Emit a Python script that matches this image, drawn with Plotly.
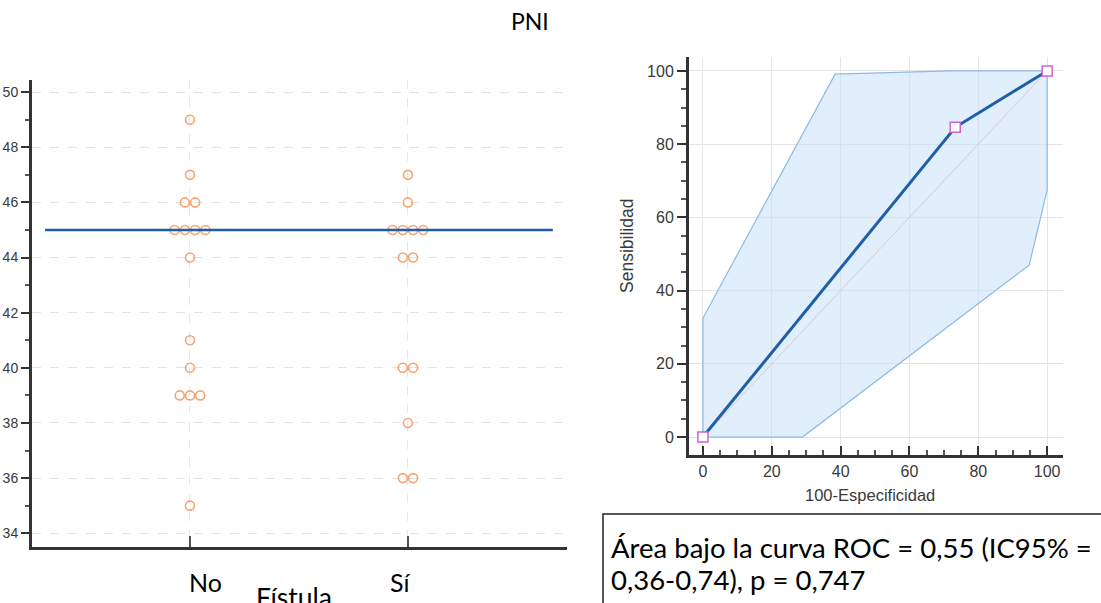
import plotly.graph_objects as go

# ---------------- data ----------------
categories = ["No", "Sí"]
pni_no = [49, 47, 46, 46, 45, 45, 45, 45, 44, 41, 40, 39, 39, 39, 35]
pni_si = [47, 46, 45, 45, 45, 45, 44, 44, 40, 40, 38, 36, 36]
mean_line_value = 45

roc_x = [0, 73.3, 100]
roc_y = [0, 84.6, 100]
band_x = [0, 0, 38.4, 72, 100, 100, 94.8, 28.9, 0]
band_y = [0, 32.5, 99.1, 100, 100, 67.5, 47, 0, 0]

left_yticks = [34, 36, 38, 40, 42, 44, 46, 48, 50]
right_ticks = [0, 20, 40, 60, 80, 100]

W, H = 1101, 603

fig = go.Figure()

# ---------- left dot plot ----------
step = 0.047  # horizontal spread for tied values (data units)


def spread(values, center):
    xs, ys = [], []
    counts = {}
    for v in values:
        counts[v] = counts.get(v, 0) + 1
    for v, n in counts.items():
        for i in range(n):
            xs.append(center + (i - (n - 1) / 2) * step)
            ys.append(v)
    return xs, ys


for ci, vals in enumerate([pni_no, pni_si]):
    xs, ys = spread(vals, ci)
    fig.add_trace(go.Scatter(
        x=xs, y=ys, mode="markers", xaxis="x", yaxis="y",
        marker=dict(symbol="circle-open", size=9, color="#f6a472",
                    line=dict(width=1.6, color="#f6a472")),
        showlegend=False, hoverinfo="y"))

fig.add_trace(go.Scatter(
    x=[-0.665, 1.665], y=[mean_line_value, mean_line_value], mode="lines",
    xaxis="x", yaxis="y", line=dict(color="#1f5ea8", width=2.5),
    showlegend=False))

# ---------- right ROC plot ----------
fig.add_trace(go.Scatter(
    x=band_x, y=band_y, mode="lines", fill="toself",
    fillcolor="rgba(200,225,250,0.55)",
    line=dict(color="#8db9e4", width=1.2),
    xaxis="x2", yaxis="y2", showlegend=False, hoverinfo="skip"))
fig.add_trace(go.Scatter(
    x=[0, 100], y=[0, 100], mode="lines",
    line=dict(color="#d9c9d3", width=1),
    xaxis="x2", yaxis="y2", showlegend=False, hoverinfo="skip"))
fig.add_trace(go.Scatter(
    x=roc_x, y=roc_y, mode="lines+markers",
    line=dict(color="#1f5ea8", width=3),
    marker=dict(symbol="square", size=10, color="white",
                line=dict(color="#cc66cc", width=1.5)),
    xaxis="x2", yaxis="y2", showlegend=False))

left_tick_font = dict(family="Liberation Sans, Arial", size=14, color="#3a3a3a")
right_tick_font = dict(family="Liberation Sans, Arial", size=16, color="#3a3a3a")

fig.update_layout(
    width=W, height=H,
    margin=dict(l=0, r=0, t=0, b=0),
    paper_bgcolor="white", plot_bgcolor="white",
    font=dict(family="Liberation Sans, Arial"),
    xaxis=dict(
        domain=[32 / W, 567 / W], range=[-0.725, 1.73],
        tickvals=[0, 1], ticktext=["", ""],
        ticks="inside", ticklen=11, tickwidth=1.5, tickcolor="#555",
        showline=True, linecolor="#333", linewidth=3,
        showgrid=True, gridcolor="#e6e6e6", griddash="dash", gridwidth=1,
        zeroline=False, anchor="y"),
    yaxis=dict(
        domain=[1 - 547 / H, 1 - 80 / H], range=[33.5, 50.44],
        tickvals=left_yticks, tickfont=left_tick_font,
        ticks="outside", ticklen=8, tickwidth=1.5, tickcolor="#333",
        minor=dict(dtick=1, tick0=33, ticks="outside", ticklen=4,
                   tickcolor="#555", showgrid=False),
        showline=True, linecolor="#333", linewidth=3,
        showgrid=True, gridcolor="#e3e3e3", griddash="dash", gridwidth=1,
        zeroline=False, anchor="x"),
    xaxis2=dict(
        domain=[689 / W, 1063 / W], range=[-4.05, 104.6],
        tickvals=right_ticks, tickfont=right_tick_font,
        ticks="inside", ticklen=9, tickwidth=1.5, tickcolor="#333",
        minor=dict(dtick=5, tick0=0, ticks="inside", ticklen=5,
                   tickcolor="#555", showgrid=False),
        showline=True, linecolor="#333", linewidth=3,
        showgrid=True, gridcolor="#e4e4e4", gridwidth=1,
        zeroline=False, anchor="y2"),
    yaxis2=dict(
        domain=[1 - 455 / H, 1 - 57 / H], range=[-4.9, 103.8],
        tickvals=right_ticks, tickfont=right_tick_font,
        ticks="outside", ticklen=9, tickwidth=1.5, tickcolor="#333",
        minor=dict(dtick=5, tick0=0, ticks="outside", ticklen=5,
                   tickcolor="#555", showgrid=False),
        showline=True, linecolor="#333", linewidth=3,
        showgrid=True, gridcolor="#e4e4e4", gridwidth=1,
        zeroline=False, anchor="x2"),
)

big_font = dict(family="Lato, Open Sans, sans-serif", size=25, color="black")
box_font = dict(family="Lato, Open Sans, sans-serif", size=27.5, color="black")
title_font = dict(family="Liberation Sans, Arial", size=16.5, color="#3a3a3a")

annotations = [
    dict(text="PNI", x=530 / W, y=1 - 21 / H, font=dict(family="Lato, sans-serif", size=23, color="black")),
    dict(text=categories[0], x=205 / W, y=1 - 582 / H, font=big_font),
    dict(text=categories[1], x=400 / W, y=1 - 582 / H, font=big_font),
    dict(text="Fístula", x=294 / W, y=1 - 597 / H, font=dict(family="Lato, Open Sans, sans-serif", size=26.5, color="black")),
    dict(text="Sensibilidad", x=627 / W, y=1 - 246 / H, textangle=-90,
         font=dict(family="Liberation Sans, Arial", size=17.5, color="#3a3a3a")),
    dict(text="100-Especificidad", x=870 / W, y=1 - 495 / H, font=title_font),
    dict(text="Área bajo la curva ROC = 0,55 (IC95% =", x=609 / W, y=1 - 547 / H,
         xanchor="left", font=box_font),
    dict(text="0,36-0,74), p = 0,747", x=609 / W, y=1 - 579 / H,
         xanchor="left", font=box_font),
]
for a in annotations:
    a.setdefault("xanchor", "center")
    a.update(xref="paper", yref="paper", yanchor="middle", showarrow=False)
fig.update_layout(annotations=annotations)

fig.add_shape(type="rect", xref="paper", yref="paper",
              x0=603 / W, x1=1.02, y0=-0.02, y1=1 - 514 / H,
              line=dict(color="#222", width=1.5), fillcolor="rgba(0,0,0,0)")

fig.write_html("out.html",
               config={"displayModeBar": False},
               post_script="document.body.style.margin='0px';document.body.style.overflow='hidden';")
